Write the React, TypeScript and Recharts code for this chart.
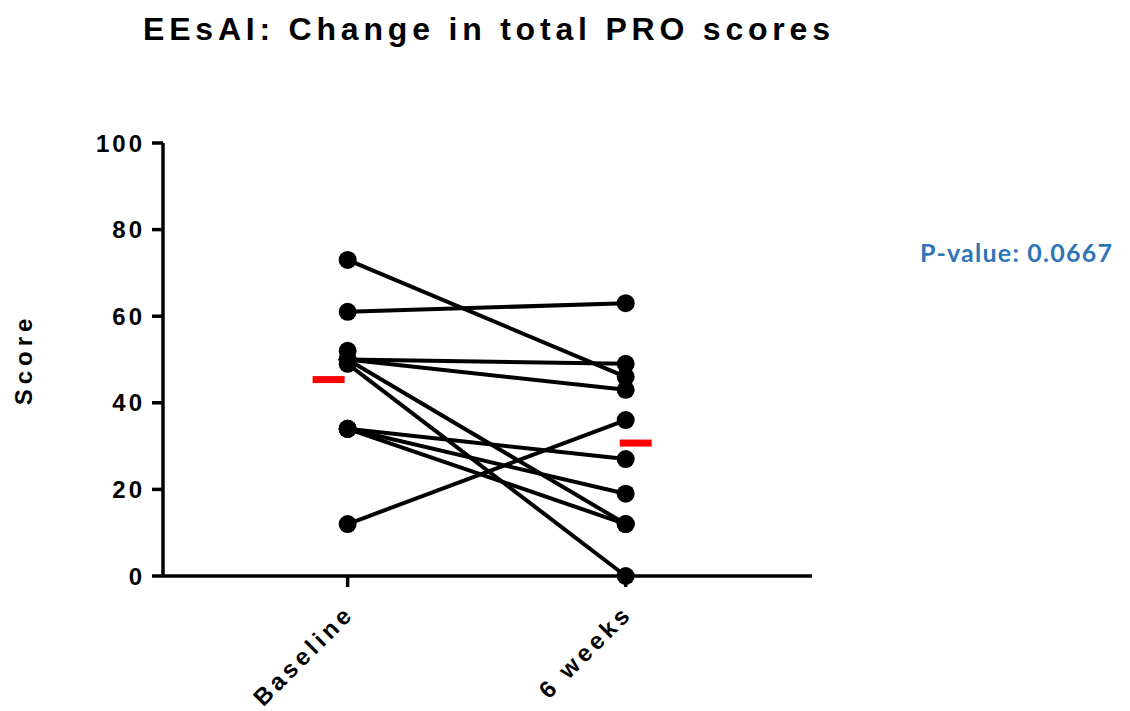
import { ComposedChart, Scatter, XAxis, YAxis } from 'recharts'

// paired subjects: baseline score -> score at 6 weeks (null = no follow-up)
const timepoints = ['Baseline', '6 weeks']
const baseline = [73, 61, 52, 50, 50, 50, 49, 34, 34, 34, 12]
const week6: (number | null)[] = [46, 63, null, 49, 43, 12, 0, 27, 19, 12, 36]
const yTicks = [0, 20, 40, 60, 80, 100]
const title = 'EEsAI: Change in total PRO scores'
const pValueText = 'P-value: 0.0667'

const mean = (arr: (number | null)[]) => {
    const v = arr.filter((a): a is number => a !== null)
    return v.reduce((s, a) => s + a, 0) / v.length
}
const subjects = baseline.map((b, i) =>
    week6[i] === null ? [{ x: 0, y: b }] : [{ x: 0, y: b }, { x: 1, y: week6[i] }]
)
const means = [
    { x: 0, y: mean(baseline) },
    { x: 1, y: mean(week6) },
]

const FONT = "'Liberation Sans', Arial, sans-serif"

function Dot({ cx, cy }: any) {
    return <circle cx={cx} cy={cy} r={9} fill="#000" />
}

// GraphPad draws the mean bar a little off the column centre
function MeanBar({ cx, cy, payload }: any) {
    const left = payload.x === 0 ? cx - 35 : cx - 6
    return <rect x={left} y={cy - 3.5} width={32} height={7} fill="#ff0000" />
}

function YTick({ x, y, payload }: any) {
    return (
        <text x={x + 3} y={y} textAnchor="end" dominantBaseline="central" fill="#000" fontSize={24}
            fontWeight={700} fontFamily={FONT} letterSpacing={3}>
            {payload.value}
        </text>
    )
}

function XTick({ x, y, payload }: any) {
    return (
        <g transform={`translate(${x + 8},${y + 26})`}>
            <text x={0} y={0} textAnchor="end" transform="rotate(-45)" fill="#000" fontSize={24}
                fontWeight={700} fontFamily={FONT} letterSpacing={4}>
                {timepoints[payload.value]}
            </text>
        </g>
    )
}

function ScoreLabel({ viewBox }: any) {
    const cy = viewBox.y + viewBox.height / 2
    return (
        <text x={23} y={cy} textAnchor="middle" dominantBaseline="central" transform={`rotate(-90, 23, ${cy})`}
            fill="#000" fontSize={24} fontWeight={700} fontFamily={FONT} letterSpacing={5}>
            Score
        </text>
    )
}

export default function App() {
    return (
        <div style={{ position: 'absolute', left: 0, top: 0, width: 1130, height: 711, background: '#fff' }}>
            <ComposedChart width={1130} height={711} margin={{ top: 143, right: 318, bottom: 0, left: 0 }}>
                <XAxis
                    type="number"
                    dataKey="x"
                    domain={[-0.664, 1.67]}
                    ticks={[0, 1]}
                    allowDataOverflow
                    height={135}
                    stroke="#000"
                    strokeWidth={3.5}
                    tickSize={11}
                    tick={<XTick />}
                    interval={0}
                />
                <YAxis
                    type="number"
                    dataKey="y"
                    domain={[0, 100]}
                    ticks={yTicks}
                    width={163}
                    stroke="#000"
                    strokeWidth={3.5}
                    tickSize={11}
                    tickMargin={10}
                    tick={<YTick />}
                    interval={0}
                    label={<ScoreLabel />}
                />
                {subjects.map((d, i) => (
                    <Scatter key={i} data={d} line={{ stroke: '#000', strokeWidth: 4 }}
                        shape={<Dot />} isAnimationActive={false} />
                ))}
                <Scatter data={means} shape={<MeanBar />} isAnimationActive={false} />
            </ComposedChart>
            <svg width={1130} height={711} style={{ position: 'absolute', left: 0, top: 0, pointerEvents: 'none' }}>
                <text x={143} y={40} textLength={687} lengthAdjust="spacing" fill="#000" fontSize={32}
                    fontWeight={700} fontFamily={FONT}>
                    {title}
                </text>
                <text x={920} y={262} textLength={192} lengthAdjust="spacing" fill="#2e75b6" fontSize={25}
                    fontWeight={700} fontFamily="Lato, 'Open Sans', sans-serif">
                    {pValueText}
                </text>
            </svg>
        </div>
    )
}
